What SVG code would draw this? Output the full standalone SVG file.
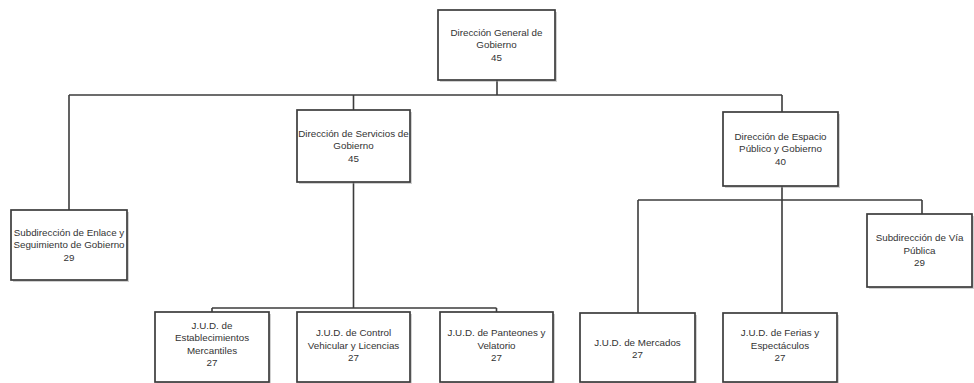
<svg xmlns="http://www.w3.org/2000/svg" width="974" height="383" viewBox="0 0 974 383">
<style>
.box{fill:#ffffff;stroke:#3c3c3c;stroke-width:1.7}
.sh{fill:#9a9a9a;opacity:0.45}
.t{font-family:"Liberation Sans",Arial,sans-serif;font-size:9.8px;fill:#333333;text-anchor:middle}
.c{fill:none;stroke:#3c3c3c;stroke-width:1.6}
</style>
<rect width="974" height="383" fill="#ffffff"/>
<g id="connectors">
<path class="c" d="M497,80 V95 M69,95 H782 M69,95 V210 M353.5,95 V110 M782,95 V112 M353.5,182 V308 M212,308 H496.5 M212,308 V312 M496.5,308 V312 M782,186 V200 M638,200 H922 M638,200 V313 M782,200 V313 M922,200 V214"/>
</g>
<g id="n-general">
<rect class="sh" x="440" y="12" width="117" height="70"/>
<rect class="box" x="438" y="10" width="117" height="70"/>
<text class="t" x="496.5" y="35.8">Dirección General de</text>
<text class="t" x="496.5" y="48.3">Gobierno</text>
<text class="t" x="496.5" y="60.8">45</text>
</g>
<g id="n-enlace">
<rect class="sh" x="13" y="212" width="116" height="70"/>
<rect class="box" x="11" y="210" width="116" height="70"/>
<text class="t" x="69" y="235.8">Subdirección de Enlace y</text>
<text class="t" x="69" y="248.3">Seguimiento de Gobierno</text>
<text class="t" x="69" y="260.8">29</text>
</g>
<g id="n-servicios">
<rect class="sh" x="299" y="112" width="113" height="72"/>
<rect class="box" x="297" y="110" width="113" height="72"/>
<text class="t" x="353.5" y="136.8">Dirección de Servicios de</text>
<text class="t" x="353.5" y="149.3">Gobierno</text>
<text class="t" x="353.5" y="161.8">45</text>
</g>
<g id="n-espacio">
<rect class="sh" x="725" y="114" width="115" height="74"/>
<rect class="box" x="723" y="112" width="115" height="74"/>
<text class="t" x="780.5" y="139.8">Dirección de Espacio</text>
<text class="t" x="780.5" y="152.3">Público y Gobierno</text>
<text class="t" x="780.5" y="164.8">40</text>
</g>
<g id="n-via">
<rect class="sh" x="869" y="216" width="105" height="73"/>
<rect class="box" x="867" y="214" width="105" height="73"/>
<text class="t" x="919.5" y="241.3">Subdirección de Vía</text>
<text class="t" x="919.5" y="253.8">Pública</text>
<text class="t" x="919.5" y="266.3">29</text>
</g>
<g id="n-establecimientos">
<rect class="sh" x="157" y="314" width="114" height="69"/>
<rect class="box" x="155" y="312" width="114" height="70"/>
<text class="t" x="212" y="328.5">J.U.D. de</text>
<text class="t" x="212" y="341">Establecimientos</text>
<text class="t" x="212" y="353.5">Mercantiles</text>
<text class="t" x="212" y="366">27</text>
</g>
<g id="n-control">
<rect class="sh" x="299" y="314" width="113" height="69"/>
<rect class="box" x="297" y="312" width="113" height="70"/>
<text class="t" x="353.5" y="336">J.U.D. de Control</text>
<text class="t" x="353.5" y="348.5">Vehicular y Licencias</text>
<text class="t" x="353.5" y="361">27</text>
</g>
<g id="n-panteones">
<rect class="sh" x="442" y="314" width="113" height="69"/>
<rect class="box" x="440" y="312" width="113" height="70"/>
<text class="t" x="496.5" y="336">J.U.D. de Panteones y</text>
<text class="t" x="496.5" y="348.5">Velatorio</text>
<text class="t" x="496.5" y="361">27</text>
</g>
<g id="n-mercados">
<rect class="sh" x="582" y="315" width="115" height="68"/>
<rect class="box" x="580" y="313" width="115" height="69"/>
<text class="t" x="637.5" y="345.5">J.U.D. de Mercados</text>
<text class="t" x="637.5" y="358">27</text>
</g>
<g id="n-ferias">
<rect class="sh" x="725" y="315" width="114" height="68"/>
<rect class="box" x="723" y="313" width="114" height="69"/>
<text class="t" x="780" y="336">J.U.D. de Ferias y</text>
<text class="t" x="780" y="348.5">Espectáculos</text>
<text class="t" x="780" y="361">27</text>
</g>
</svg>
